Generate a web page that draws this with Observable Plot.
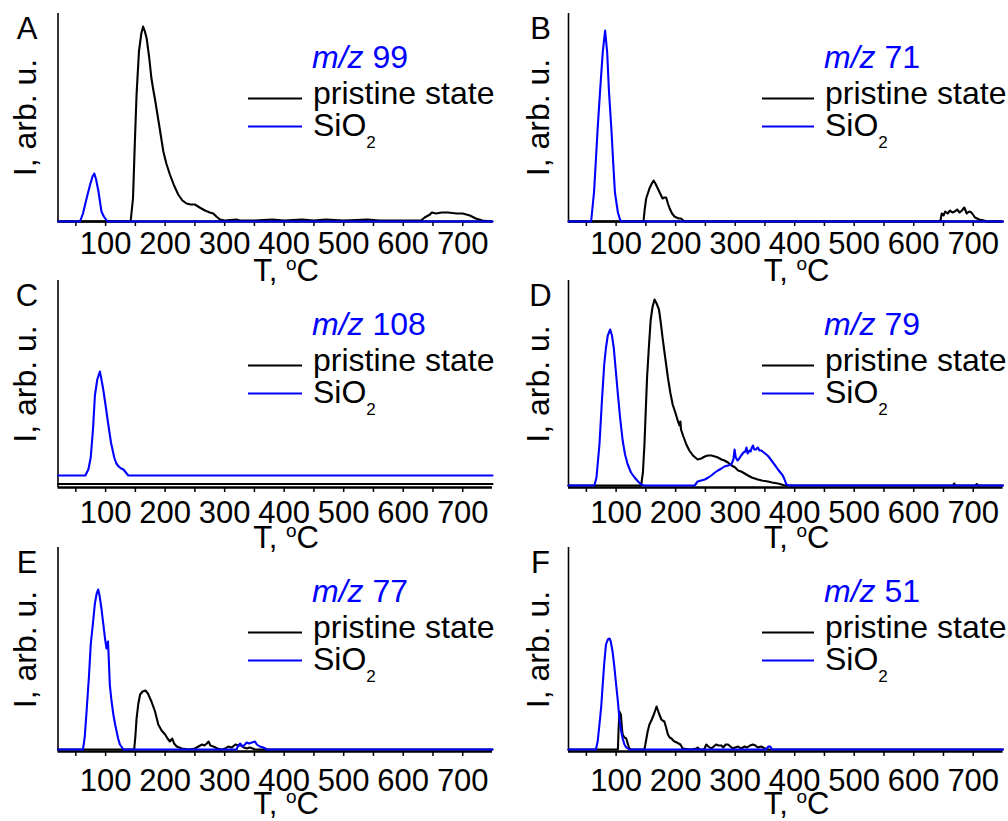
<!DOCTYPE html>
<html>
<head>
<meta charset="utf-8">
<script src="https://cdn.jsdelivr.net/npm/d3@7"></script>
<script src="https://cdn.jsdelivr.net/npm/@observablehq/plot@0.6"></script>
<style>
  body { margin: 0; background: #fff; }
  #root { position: relative; width: 1008px; height: 821px; overflow: hidden; font-family: "Liberation Sans", Arial, sans-serif; }
  .panel { position: absolute; }
  .panel svg { overflow: visible; }
</style>
</head>
<body>
<div id="root"></div>
<script>
// ---------------- DATA (T in °C, intensity in arbitrary units) ----------------
const panelLetters = ["A", "B", "C", "D", "E", "F"];
const panelMz = [99, 71, 108, 79, 77, 51];
const seriesNames = ["pristine state", "SiO2"];
const xTicks = [50, 100, 150, 200, 250, 300, 350, 400, 450, 500, 550, 600, 650, 700];
const xDomain = [20, 750];

const pristineA = [[20,0],[142,0],[146,23],[149,77],[152,127],[156,170],[160,188],[163,195],[166,190],[169,183],[173,165],[177,143],[180,132],[183,122],[189,100],[193,85],[197,70],[202,58],[208,47],[215,36],[222,27],[229,21],[236,18],[243,17],[250,17],[258,14],[267,11],[275,9],[281,8],[286,5],[292,2],[300,1],[320,2],[325,1],[350,1],[380,2],[400,1],[430,2],[450,1],[470,2],[500,1],[540,2],[560,1],[600,1],[630,1],[636,4],[645,7],[648,9],[655,8],[665,9],[675,9],[690,8],[700,8],[712,6],[722,3],[733,1],[750,0]];
const sio2A = [[20,0],[57,0],[62,8],[68,23],[74,37],[78,45],[81,48],[84,42],[88,30],[91,18],[93,10],[97,5],[103,0],[750,0]];

const pristineB = [[20,0],[146,0],[148,12],[150.5,23],[156,33],[160,38],[163,41],[166,38],[170,33],[174,28],[178,23],[181,24],[184,24],[187,18],[190,13],[194,8],[198,5],[205,3],[209,3],[215,0],[640,0],[645,1],[647,8],[650,6],[653,10],[657,8],[661,11],[665,9],[669,10],[673,12],[677,9],[681,11],[685,14],[689,8],[693,10],[697,9],[703,4],[710,2],[718,1],[722,0],[750,0]];
const sio2B = [[20,0],[58,0],[63,30],[69,93],[73,130],[77.5,169],[81.5,191],[85,169],[88,130],[92,93],[95,60],[98,29],[103,9],[107,1],[110,0],[750,0]];

const pristineC = [[20,3.5],[750,3.5]];
const sio2C = [[20,12],[66,12],[71,18],[75,30],[79,60],[82,92],[86,108],[90.4,116],[93,108],[96,98],[100,82],[104,65],[109,45],[114.5,30],[118,24],[122,21],[126,19],[130,18],[134,15],[138,12],[750,12]];

const pristineD = [[20,2],[142,2],[145,15],[147.6,43],[150,80],[152,110],[155,140],[158,167],[161,180],[164.5,188],[168,184],[172,178],[175,165],[178,150],[182,132],[187,110],[191,95],[195,83],[200,74],[204,66],[206.6,62],[208,66],[209,58],[213,51],[218,43],[223,37],[229,32],[233,30],[237,28],[243,29],[249,31],[254,32],[260,32],[266,31],[271,30],[277,28],[282,27],[288,25],[294,22],[300,20],[305,17],[310,16],[316,14],[321.6,12],[328,10],[333,9],[338,8],[345,7],[355,6],[362,5],[372,4],[378,3],[383,2],[666,2],[668,4],[670,2],[704,2],[706,3.5],[708,2],[750,2]];
const sio2D = [[20,2],[63.5,2],[67,10],[72,43],[76,85],[80,123],[83,140],[86,152],[90,158],[93,152],[96,140],[99,120],[103,93],[107,68],[111,47],[115,33],[119.5,23],[125,15],[131,10],[137,6],[142,3],[147,2],[232,2],[237,6],[243,7],[249,8],[255,10],[260,12],[266,15],[271,17],[277,19],[282,21],[288,22],[293.6,23],[297,28],[299,38],[301,30],[304,27],[307,29],[310,32],[314,35],[317,36],[319,40],[321,34],[324,37],[326,36],[328,40],[330,42],[332,38],[335,38],[338,40],[341,37],[344,37],[348,35],[352.5,33],[356,31],[361,27],[366,23],[372,18],[376,15],[380,12],[383,8],[386,3],[391,2],[750,2]];

const pristineE = [[20,2],[148,2],[150,15],[152,33],[155,48],[158,57],[162,60],[167,61],[171,58],[177,50],[180,45],[183,40],[186,33],[188.5,27],[194,21],[200,17],[204,13],[208,10],[212,13],[215,8],[219.5,5],[228,3],[240,2],[250,3],[256,5],[262,7],[266,6],[270,8],[273,10],[276,6],[281,5],[288,3],[295,2],[301,3],[306,5],[312,4],[318,7],[323,6],[327,6],[332,4],[337,3],[342,4],[347,3],[351,2],[750,2]];
const sio2E = [[20,2],[62,2],[65,15],[68,40],[72,75],[75,107],[79,130],[82,148],[85,158],[87.6,162],[90,155],[93,143],[96,128],[99,113],[101.5,103],[103,107],[104,110],[105.5,90],[107,67],[110,50],[113,37],[116,27],[118.5,20],[121,13],[124,7],[130,2],[320,2],[322,5],[326,8],[330,5],[334,7],[337,9],[341,8],[346,9],[351,10],[354,7],[359,5],[365,4],[371,2],[750,2]];

const pristineF = [[20,2],[103,2],[104,20],[105.5,40],[107,38],[108,37],[110,22],[111,17],[114,14],[117,13],[120,7],[122,3],[125,2],[147.6,2],[150,10],[153,20],[156,27],[160,32],[164,38],[168,45],[172,38],[176,32],[178,31],[181,30],[184,24],[187,17],[190,14],[193,13],[196,11],[198,10],[202,9],[205,8],[208,7],[212,3],[225,2],[235,3],[237,4],[240,2],[248,2],[251.5,7],[255,5],[260,3],[264,5],[268,7],[272,6],[277,6],[280,4],[284,7],[288,7],[292,5],[296,3],[300,4],[305,5],[310,3],[316,5],[320,4],[325,6],[330,7],[334,6],[338,4],[344,5],[350,3],[355,2],[750,2]];
const sio2F = [[20,2],[66,2],[69,10],[72,27],[75,45],[77.5,67],[80,88],[83,107],[86,112],[89,113],[91,110],[94,100],[97,85],[100,67],[103,50],[105.5,33],[108,22],[111,13],[114,7],[117,4],[122,2],[352,2],[356,5],[359,5],[362,2],[750,2]];

const pristineSeries = [pristineA, pristineB, pristineC, pristineD, pristineE, pristineF];
const sio2Series = [sio2A, sio2B, sio2C, sio2D, sio2E, sio2F];

// ---------------- LAYOUT ----------------
const BLUE = "#0000ff";
const FONT = "'Liberation Sans', Arial, sans-serif";
const rowTop = [0, 267, 534];
const rowH = [208, 207, 204];
const rowMB = [46, 47, 70];
const tickPad = [5, 8, 12];
const tLabelDy = [50, 51, 53];
const PANEL_W = 504;

const root = document.getElementById("root");

panelLetters.forEach((letter, i) => {
  const row = Math.floor(i / 2), col = i % 2;
  const H = rowH[row];
  const ml = col ? 64 : 57.5, mr = col ? 5.5 : 12;
  const K = (PANEL_W - ml - mr) / (xDomain[1] - xDomain[0]);
  const xAt = px => xDomain[0] + px / K;       // pixel offset from y axis -> data x
  const lineX1 = col ? 194 : 190.5, lineX2 = col ? 246 : 244.5;
  const textX = col ? 255.5 : 254;

  const plot = Plot.plot({
    width: PANEL_W,
    height: 13 + H + rowMB[row],
    marginTop: 13,
    marginBottom: rowMB[row],
    marginLeft: ml,
    marginRight: mr,
    x: { domain: xDomain },
    y: { domain: [0, H], axis: null },
    style: { fontFamily: FONT, fontSize: "31px", color: "black", background: "transparent", overflow: "visible" },
    marks: [
      Plot.ruleX([xDomain[0]], { y1: 0, y2: H, stroke: "black", strokeWidth: 1.6 }),
      Plot.ruleY([0], { stroke: "black", strokeWidth: 2.4 }),
      Plot.axisX({
        ticks: xTicks,
        tickFormat: d => (d % 100 === 0 ? String(d) : ""),
        tickSize: 5,
        tickPadding: tickPad[row],
        fontSize: 31,
        strokeWidth: 1.5,
        label: null
      }),
      Plot.line(pristineSeries[i], { x: d => d[0], y: d => d[1], stroke: "black", strokeWidth: 2.1 }),
      Plot.line(sio2Series[i], { x: d => d[0], y: d => d[1], stroke: BLUE, strokeWidth: 2.1 }),
      // legend swatches
      Plot.ruleY([H - 85], { x1: xAt(lineX1), x2: xAt(lineX2), stroke: "black", strokeWidth: 2 }),
      Plot.ruleY([H - 113], { x1: xAt(lineX1), x2: xAt(lineX2), stroke: BLUE, strokeWidth: 2 }),
      // legend texts
      Plot.text([`m/z ${panelMz[i]}`], { text: d => d, frameAnchor: "top-left", dx: textX, dy: 44.3, textAnchor: "start", lineAnchor: "middle", fontSize: 32, fill: BLUE }),
      Plot.text([seriesNames[0]], { text: d => d, frameAnchor: "top-left", dx: textX + 1, dy: 79.8, textAnchor: "start", lineAnchor: "middle", fontSize: 32, fill: "black" }),
      Plot.text([seriesNames[1]], { text: d => d, frameAnchor: "top-left", dx: textX + 1, dy: 112.3, textAnchor: "start", lineAnchor: "middle", fontSize: 32, fill: "black" }),
      // panel letter
      Plot.text([letter], { text: d => d, frameAnchor: "top-left", dx: col ? -28 : -31, dy: 16, textAnchor: "middle", lineAnchor: "middle", fontSize: 31, fill: "black" }),
      // y label
      Plot.text(["I, arb. u."], { text: d => d, frameAnchor: "left", rotate: -90, dx: col ? -30 : -32, textAnchor: "middle", lineAnchor: "middle", fontSize: 32, fill: "black" }),
      // x label
      Plot.text(["T, °C"], { text: d => d, frameAnchor: "bottom-left", dx: 228, dy: tLabelDy[row], textAnchor: "middle", lineAnchor: "middle", fontSize: 31, fill: "black" })
    ]
  });

  // rich text: italic m/z, subscript 2, superscript o
  d3.select(plot).selectAll("text").each(function () {
    const t = this.textContent;
    const sel = d3.select(this);
    if (t.startsWith("m/z ")) {
      this.textContent = "";
      sel.append("tspan").attr("font-style", "italic").text("m/z");
      sel.append("tspan").text(t.slice(3));
    } else if (t === "SiO2") {
      this.textContent = "";
      sel.append("tspan").text("SiO");
      sel.append("tspan").attr("font-size", 17).attr("dy", 12).text("2");
    } else if (t === "T, °C") {
      this.textContent = "";
      sel.append("tspan").text("T, ");
      sel.append("tspan").attr("font-size", 19).attr("dy", -11).text("o");
      sel.append("tspan").attr("dy", 11).text("C");
    }
  });

  const div = document.createElement("div");
  div.className = "panel";
  div.style.left = (col * PANEL_W) + "px";
  div.style.top = rowTop[row] + "px";
  div.appendChild(plot);
  root.appendChild(div);
});
</script>
</body>
</html>
